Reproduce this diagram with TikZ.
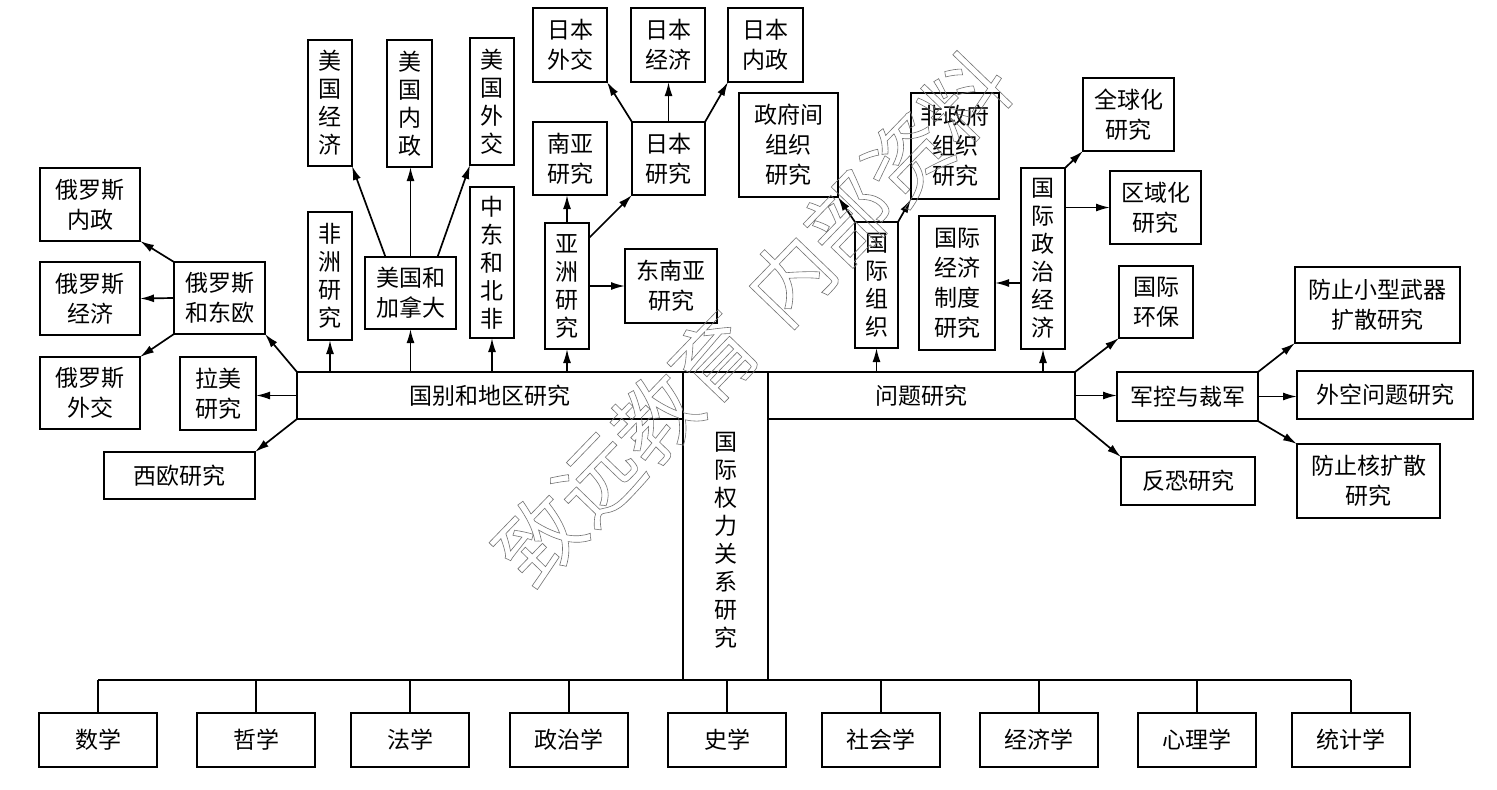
\documentclass[tikz,border=0pt]{standalone}
\usepackage{fontspec}
\newfontfamily\cjk{Noto Sans CJK SC}
\usetikzlibrary{arrows.meta}
\newcommand\bx[7][]{\node[box,#1,minimum width={(#5-#3)*1pt},minimum height={(#6-#4)*1pt}] (#2) at ({(#3+#5)/2},{(#4+#6)/2}) {#7};}
\begin{document}
\begin{tikzpicture}[x=1pt,y=-1pt,
  box/.style={draw,line width=1.9pt,inner sep=0pt,outer sep=0pt,align=center,font=\cjk\fontsize{23}{30}\selectfont},
  vbox/.style={font=\cjk\fontsize{23}{28}\selectfont},
  vtext/.style={align=center,inner sep=0pt,font=\cjk\fontsize{23}{28}\selectfont},
  arr/.style={line width=1.7pt,-{Latex[length=14pt,width=8pt]}},
  ln/.style={line width=1.7pt},
  wmark/.style={rotate=46,inner sep=0pt,text=black!55,font=\cjk\fontsize{84}{84}\selectfont}]
\fill[white] (0,0) rectangle (1497,790);
\useasboundingbox (0,0) rectangle (1497,790);
% left group
\bx{ryn}{40}{168}{140}{241}{俄罗斯\\内政}
\bx{ryj}{40}{262}{140}{335}{俄罗斯\\经济}
\bx{ryw}{40}{357}{140}{429}{俄罗斯\\外交}
\bx{rdo}{174}{262}{265}{334}{俄罗斯\\和东欧}
\bx{lm}{180}{357}{256}{430}{拉美\\研究}
\bx{xo}{104}{452}{255}{499}{西欧研究}
% central structure
\bx{gb}{297}{372}{683}{419}{国别和地区研究}
\bx{gq}{683}{372}{768}{680}{}
\node[vtext] (gqt) at (725.5,540) {国\\际\\权\\力\\关\\系\\研\\究};
\bx{wt}{768}{372}{1075}{419}{问题研究}
% region studies
\bx[vbox]{fz}{308}{212}{352}{340}{非\\洲\\研\\究}
\bx{mj}{365}{257}{456}{329}{美国和\\加拿大}
\bx[vbox]{zd}{470}{187}{514}{338}{中\\东\\和\\北\\非}
\bx[vbox]{yz}{545}{223}{589}{349}{亚\\洲\\研\\究}
\bx[vbox]{mjj}{308}{40}{352}{166}{美\\国\\经\\济}
\bx[vbox]{mnz}{387}{40}{432}{167}{美\\国\\内\\政}
\bx[vbox]{mwj}{470}{38}{514}{165}{美\\国\\外\\交}
\bx{ny}{533}{122}{607}{195}{南亚\\研究}
\bx{rb}{632}{122}{705}{195}{日本\\研究}
\bx{rwj}{533}{8}{607}{82}{日本\\外交}
\bx{rjj}{631}{8}{705}{82}{日本\\经济}
\bx{rnz}{728}{8}{803}{82}{日本\\内政}
\bx{dny}{625}{249}{717}{323}{东南亚\\研究}
% issue studies
\bx{zfj}{739}{93}{838}{197}{政府间\\组织\\研究}
\bx{fzf}{911}{93}{999}{199}{非政府\\组织\\研究}
\bx[vbox]{gz}{855}{222}{898}{348}{国\\际\\组\\织}
\bx{gjz}{919}{216}{995}{350}{国际\\经济\\制度\\研究}
\bx[vbox]{gzj}{1021}{168}{1065}{349}{国\\际\\政\\治\\经\\济}
\bx{qq}{1083}{78}{1174}{151}{全球化\\研究}
\bx{qy}{1110}{171}{1201}{244}{区域化\\研究}
\bx{hb}{1119}{266}{1193}{338}{国际\\环保}
\bx{xw}{1295}{267}{1460}{343}{防止小型武器\\扩散研究}
\bx{jk}{1117}{372}{1258}{421}{军控与裁军}
\bx{wk}{1297}{371}{1473}{419}{外空问题研究}
\bx{fk}{1121}{457}{1255}{505}{反恐研究}
\bx{hk}{1297}{444}{1440}{518}{防止核扩散\\研究}
% disciplines
\bx{sx}{39}{713}{157}{767}{数学}
\bx{zx}{197}{713}{315}{767}{哲学}
\bx{fx}{351}{713}{469}{767}{法学}
\bx{zzx}{510}{713}{628}{767}{政治学}
\bx{sxx}{668}{713}{786}{767}{史学}
\bx{shx}{822}{713}{940}{767}{社会学}
\bx{jjx}{980}{713}{1098}{767}{经济学}
\bx{xlx}{1138}{713}{1256}{767}{心理学}
\bx{tjx}{1292}{713}{1410}{767}{统计学}
% left arrows
\draw[arr] (rdo.north west) -- (ryn.south east);
\draw[arr] (rdo.west) -- (ryj.east);
\draw[arr] (rdo.south west) -- (ryw.north east);
\draw[arr] (gb.north west) -- (rdo.south east);
\draw[arr] (gb.west) -- (gb.west -| lm.east);
\draw[arr] (gb.south west) -- (xo.north east);
% up from region box
\foreach \n in {fz,mj,zd,yz} \draw[arr] (\n.south |- gb.north) -- (\n.south);
\draw[arr] ([xshift=-25pt]mj.north) -- (mjj.south east);
\draw[arr] (mj.north) -- (mj.north |- mnz.south);
\draw[arr] ([xshift=27pt]mj.north) -- (mwj.south west);
\draw[arr] (yz.north) -- (yz.north |- ny.south);
\draw[arr] ([yshift=-15pt]yz.north east) -- (rb.south west);
\draw[arr] (yz.east) -- (yz.east -| dny.west);
\draw[arr] (rb.north west) -- (rwj.south east);
\draw[arr] (rb.north) -- (rb.north |- rjj.south);
\draw[arr] (rb.north east) -- (rnz.south west);
% issue arrows
\draw[arr] (gz.south |- wt.north) -- (gz.south);
\draw[arr] (gzj.south |- wt.north) -- (gzj.south);
\draw[arr] (gz.north west) -- (zfj.south east);
\draw[arr] (gz.north east) -- (fzf.south west);
\draw[arr] (gzj.west |- gjz.east) -- (gjz.east);
\draw[arr] (gzj.north east) -- (qq.south west);
\draw[arr] (gzj.east |- qy.west) -- (qy.west);
\draw[arr] (wt.north east) -- (hb.south west);
\draw[arr] (wt.east) -- (wt.east -| jk.west);
\draw[arr] (wt.south east) -- (fk.north west);
\draw[arr] (jk.north east) -- (xw.south west);
\draw[arr] (jk.east) -- (jk.east -| wk.west);
\draw[arr] (jk.south east) -- (hk.north west);
% bus
\draw[ln] (sx.north |- gq.south) -- (tjx.north |- gq.south);
\foreach \n in {sx,zx,fx,zzx,sxx,shx,jjx,xlx,tjx} \draw[ln] (\n.north |- gq.south) -- (\n.north);
% watermark
\node[wmark] (wm) at (752,318) {\special{pdf:literal direct 1 Tr 0.6 w}致远教育\hspace{0.3em}内部资料\special{pdf:literal direct 0 Tr}};
\end{tikzpicture}
\end{document}
